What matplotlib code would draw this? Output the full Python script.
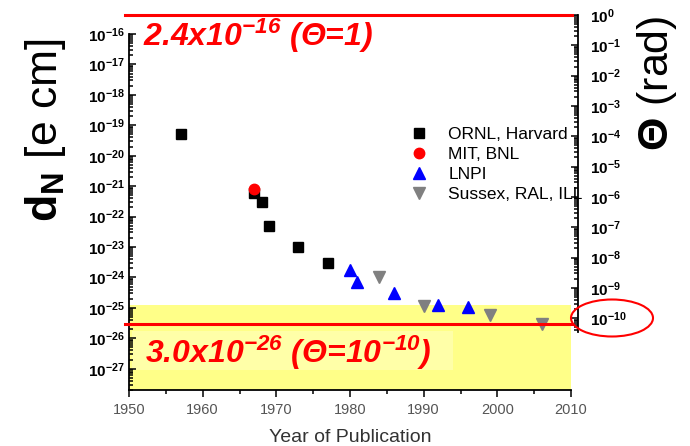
import matplotlib
matplotlib.use("Agg")
import matplotlib.pyplot as plt
import matplotlib.transforms as mtransforms
from matplotlib.patches import Ellipse, Rectangle
from matplotlib.ticker import FixedLocator, MultipleLocator

plt.rcParams["font.family"] = ["Liberation Sans", "DejaVu Sans"]
plt.rcParams["mathtext.fontset"] = "custom"
plt.rcParams["mathtext.rm"] = "Liberation Sans"
plt.rcParams["mathtext.bf"] = "Liberation Sans:bold"

# neutron EDM upper limits [e cm] by year of publication
ornl_year = [1957, 1967, 1968, 1969, 1973, 1977]
ornl_dn = [5e-20, 6e-22, 3e-22, 5e-23, 1e-23, 3e-24]
mit_year = [1967]
mit_dn = [8e-22]
lnpi_year = [1980, 1981, 1986, 1992, 1996]
lnpi_dn = [1.7e-24, 7e-25, 3e-25, 1.2e-25, 1.1e-25]
sussex_year = [1984, 1990, 1999, 2006]
sussex_dn = [1e-24, 1.15e-25, 6e-26, 2.9e-26]

d_theta1 = 2.4e-16      # d_N for theta = 1
d_now = 3.0e-26         # d_N for theta = 1e-10
theta_top = 1.0
yellow_top = 1.2e-25

dn_exps = list(range(-27, -15))       # 1e-27 .. 1e-16
theta_exps = list(range(-10, 1))      # 1e-10 .. 1

W, H = 690, 446


def fx(px):
    return px / W


def fy(py):
    return 1 - py / H


def log_ticks(exps, lo, hi):
    major = [10.0 ** e for e in exps]
    minor = [m * 10.0 ** e for e in range(min(exps) - 1, max(exps) + 1)
             for m in range(2, 10)]
    return major, [v for v in minor if lo <= v <= hi]


fig = plt.figure(figsize=(6.9, 4.46), dpi=100)

# main axes: d_N versus year
ax = fig.add_axes([fx(129), fy(390), (571 - 129) / W, (390 - 34) / H])
ax.set_yscale("log")
ax.set_xlim(1950, 2010)
ax.set_ylim(2e-28, 1e-16)

ax.axhspan(2e-28, yellow_top, color="#ffff88", zorder=0, lw=0)
ax.add_patch(Rectangle((1950.4, 9e-28), 43.6, 1.8e-26 - 9e-28,
                       facecolor="#ffffa8", edgecolor="none", zorder=0.5))

ax.plot(ornl_year, ornl_dn, "s", color="black", ms=7.5, label="ORNL, Harvard", zorder=3)
ax.plot(mit_year, mit_dn, "o", color="red", ms=7.5, label="MIT, BNL", zorder=4)
ax.plot(lnpi_year, lnpi_dn, "^", color="blue", ms=9, label="LNPI", zorder=3)
ax.plot(sussex_year, sussex_dn, "v", color="#808080", ms=9, label="Sussex, RAL, ILL", zorder=3)

for side in ("top", "right"):
    ax.spines[side].set_visible(False)
ax.spines["left"].set_linewidth(1.3)
ax.spines["bottom"].set_linewidth(1.3)

major, minor = log_ticks(dn_exps, 2e-28, 1e-16)
ax.yaxis.set_major_locator(FixedLocator(major))
ax.yaxis.set_minor_locator(FixedLocator(minor))
ax.tick_params(axis="y", which="both", direction="in", width=1.1, pad=3)
ax.tick_params(axis="y", which="major", length=5, labelsize=11)
ax.tick_params(axis="y", which="minor", length=3, labelleft=False)
for lab in ax.get_yticklabels():
    lab.set_fontweight("bold")

ax.xaxis.set_major_locator(MultipleLocator(10))
ax.xaxis.set_minor_locator(MultipleLocator(5))
ax.tick_params(axis="x", which="both", direction="out", width=1.1,
               labelsize=10.5, labelcolor="#555555", pad=4)
ax.tick_params(axis="x", which="major", length=5)
ax.tick_params(axis="x", which="minor", length=3)

ax.legend(loc="upper left", bbox_to_anchor=(fx(410), fy(127)),
          bbox_transform=fig.transFigure, frameon=False, fontsize=12.5,
          handlelength=1.0, handletextpad=1.2, labelspacing=0.27,
          borderpad=0, borderaxespad=0, numpoints=1)

# theta axis on the right
ax2 = fig.add_axes([fx(129), fy(332), (578 - 129) / W, (332 - 15) / H])
ax2.patch.set_visible(False)
ax2.set_yscale("log")
ax2.set_ylim(3.5e-11, 1)
ax2.set_xlim(0, 1)
for side in ("top", "left", "bottom"):
    ax2.spines[side].set_visible(False)
ax2.spines["right"].set_linewidth(1.3)
ax2.set_xticks([])
ax2.yaxis.tick_right()
major, minor = log_ticks(theta_exps, 3.5e-11, 1)
ax2.yaxis.set_major_locator(FixedLocator(major))
ax2.yaxis.set_minor_locator(FixedLocator(minor))
ax2.tick_params(axis="y", which="both", direction="in", width=1.1, pad=9)
ax2.tick_params(axis="y", which="major", length=5, labelsize=11)
ax2.tick_params(axis="y", which="minor", length=3, labelright=False)
for lab in ax2.get_yticklabels():
    lab.set_fontweight("bold")

# red reference lines
tr1 = mtransforms.blended_transform_factory(ax.transAxes, ax.transData)
ax.plot([-4 / 442, 443 / 442], [d_now, d_now], color="red", lw=2.2,
        transform=tr1, clip_on=False, zorder=5)
tr2 = mtransforms.blended_transform_factory(ax2.transAxes, ax2.transData)
ax2.plot([-4 / 449, 443 / 449], [theta_top, theta_top], color="red", lw=2.2,
         transform=tr2, clip_on=False, zorder=5)

red_font = dict(color="red", fontsize=23, fontweight="bold", fontstyle="italic",
                va="baseline", ha="left")
fig.text(fx(143), fy(46), r"2.4x$\mathdefault{10^{-16}}$ (Θ=1)", **red_font)
fig.text(fx(145), fy(363), r"3.0x$\mathdefault{10^{-26}}$ (Θ=$\mathdefault{10^{-10}}$)",
         **red_font)

fig.add_artist(Ellipse((fx(612), fy(318)), 82 / W, 37 / H, transform=fig.transFigure,
                       fill=False, edgecolor="red", lw=1.5))

# axis titles
fig.text(fx(45), fy(130), r"$\mathbf{d_N}$ [e cm]", rotation=90, fontsize=32,
         ha="center", va="center")
fig.text(fx(657), fy(83), r"$\mathbf{\Theta}$ (rad)", rotation=90, fontsize=31,
         ha="center", va="center")
fig.text(fx(350), fy(437), "Year of Publication", fontsize=14, color="#333333",
         ha="center", va="center")

fig.savefig("out.png", dpi=100)
